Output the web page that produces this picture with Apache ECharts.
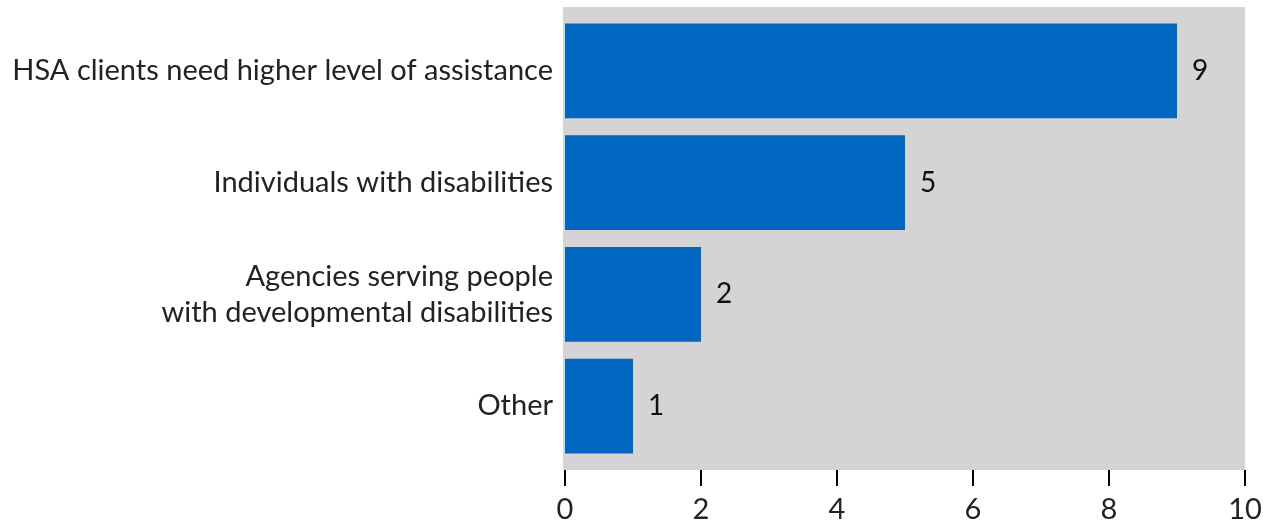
<!DOCTYPE html>
<html><head><meta charset="utf-8">
<script src="https://cdn.jsdelivr.net/npm/echarts@6/dist/echarts.min.js"></script>
<style>html,body{margin:0;padding:0;background:#fff}#c{width:1265px;height:525px}</style>
</head><body><div id="c"></div>
<script>
var categories = ["HSA clients need higher level of assistance", "Individuals with disabilities", "Agencies serving people\nwith developmental disabilities", "Other"];
var values = [9, 5, 2, 1];
var xTicks = [0, 2, 4, 6, 8, 10];

var chart = echarts.init(document.getElementById('c'));
chart.setOption({
  animation: false,
  textStyle: {fontFamily: 'Lato'},
  graphic: [{type: 'rect', z: -10, shape: {x: 563, y: 7, width: 682, height: 463}, style: {fill: '#d4d4d4'}}],
  grid: {left: 565, right: 20, top: 15, bottom: 63},
  xAxis: {
    type: 'value', min: xTicks[0], max: xTicks[xTicks.length-1], interval: 2, offset: 8,
    axisLine: {show: false},
    axisTick: {show: true, length: 16, lineStyle: {color: '#000', width: 2}},
    splitLine: {show: false},
    axisLabel: {fontSize: 29, color: '#222', margin: 25, fontFamily: 'Lato'}
  },
  yAxis: {
    type: 'category', data: categories, inverse: true,
    axisLine: {show: false}, axisTick: {show: false},
    axisLabel: {fontSize: 29, color: '#222', margin: 12, lineHeight: 36, fontFamily: 'Lato', align: 'right'}
  },
  series: [{
    type: 'bar', data: values, barCategoryGap: '15%',
    itemStyle: {color: '#0066bf'},
    label: {show: true, position: 'right', distance: 15, fontSize: 28, color: '#111', fontFamily: 'Lato'}
  }]
});
</script></body></html>
